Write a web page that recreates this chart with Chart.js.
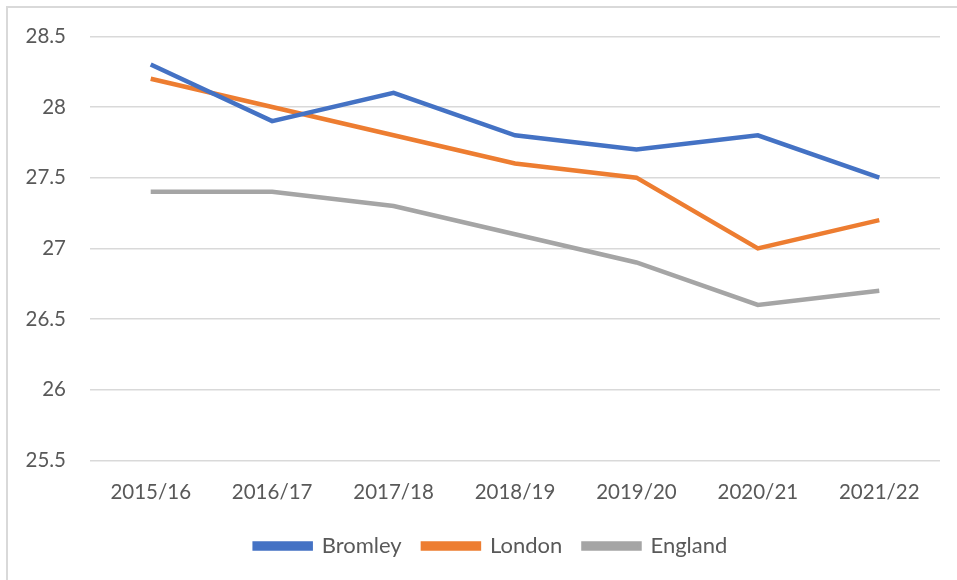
<!DOCTYPE html>
<html>
<head>
<meta charset="utf-8">
<script src="https://cdn.jsdelivr.net/npm/chart.js@4/dist/chart.umd.min.js"></script>
<style>
  html, body { margin: 0; padding: 0; background: #fff; }
  #wrap { position: relative; width: 957px; height: 580px; }
  #frame { position: absolute; left: 6px; top: 6px; right: 0; bottom: 0; border-left: 2px solid #d9d9d9; border-top: 2px solid #d9d9d9; pointer-events: none; }
</style>
</head>
<body>
<div id="wrap">
  <canvas id="chart" width="957" height="580"></canvas>
  <div id="frame"></div>
</div>
<script>
var years = ['2015/16', '2016/17', '2017/18', '2018/19', '2019/20', '2020/21', '2021/22'];
var bromley = [28.3, 27.9, 28.1, 27.8, 27.7, 27.8, 27.5];
var london = [28.2, 28.0, 27.8, 27.6, 27.5, 27.0, 27.2];
var england = [27.4, 27.4, 27.3, 27.1, 26.9, 26.6, 26.7];

var textColor = '#595959';
var fontFamily = 'Lato, "Open Sans", sans-serif';

function series(label, data, color) {
    return {
        label: label,
        data: data,
        borderColor: color,
        backgroundColor: color,
        borderWidth: 4.5,
        pointRadius: 0,
        tension: 0,
        fill: false
    };
}

// nudge the legend to the right, like the original
var legendShift = {
    id: 'legendShift',
    afterLayout: function (chart) {
        chart.legend.left += 21;
        chart.legend.right += 21;
    }
};

var ctx = document.getElementById('chart').getContext('2d');
new Chart(ctx, {
    type: 'line',
    data: {
        labels: years,
        datasets: [
            series('Bromley', bromley, '#4472C4'),
            series('London', london, '#ED7D31'),
            series('England', england, '#A5A5A5')
        ]
    },
    plugins: [legendShift],
    options: {
        responsive: false,
        animation: false,
        layout: {
            padding: { top: 29, right: 17, left: 0, bottom: 13 }
        },
        plugins: {
            tooltip: { enabled: false },
            legend: {
                position: 'bottom',
                labels: {
                    color: textColor,
                    boxWidth: 56,
                    boxHeight: 5,
                    padding: 10,
                    font: { family: fontFamily, size: 22 },
                    generateLabels: function (chart) {
                        var items = Chart.defaults.plugins.legend.labels.generateLabels(chart);
                        items.forEach(function (item, i) {
                            if (i < items.length - 1) item.text = item.text + '  ';
                        });
                        return items;
                    }
                }
            }
        },
        scales: {
            x: {
                offset: true,
                grid: { display: false, drawTicks: false },
                border: { display: false },
                ticks: {
                    color: textColor,
                    padding: 20,
                    maxRotation: 0,
                    font: { family: fontFamily, size: 20.5 }
                }
            },
            y: {
                min: 25.5,
                max: 28.5,
                afterFit: function (scale) { scale.width = 90; },
                grid: { color: '#d9d9d9', lineWidth: 1.5, drawTicks: false },
                border: { display: false },
                ticks: {
                    stepSize: 0.5,
                    color: textColor,
                    padding: 24,
                    font: { family: fontFamily, size: 20.5 },
                    callback: function (value) { return String(Math.round(value * 10) / 10); }
                }
            }
        }
    }
});
</script>
</body>
</html>
